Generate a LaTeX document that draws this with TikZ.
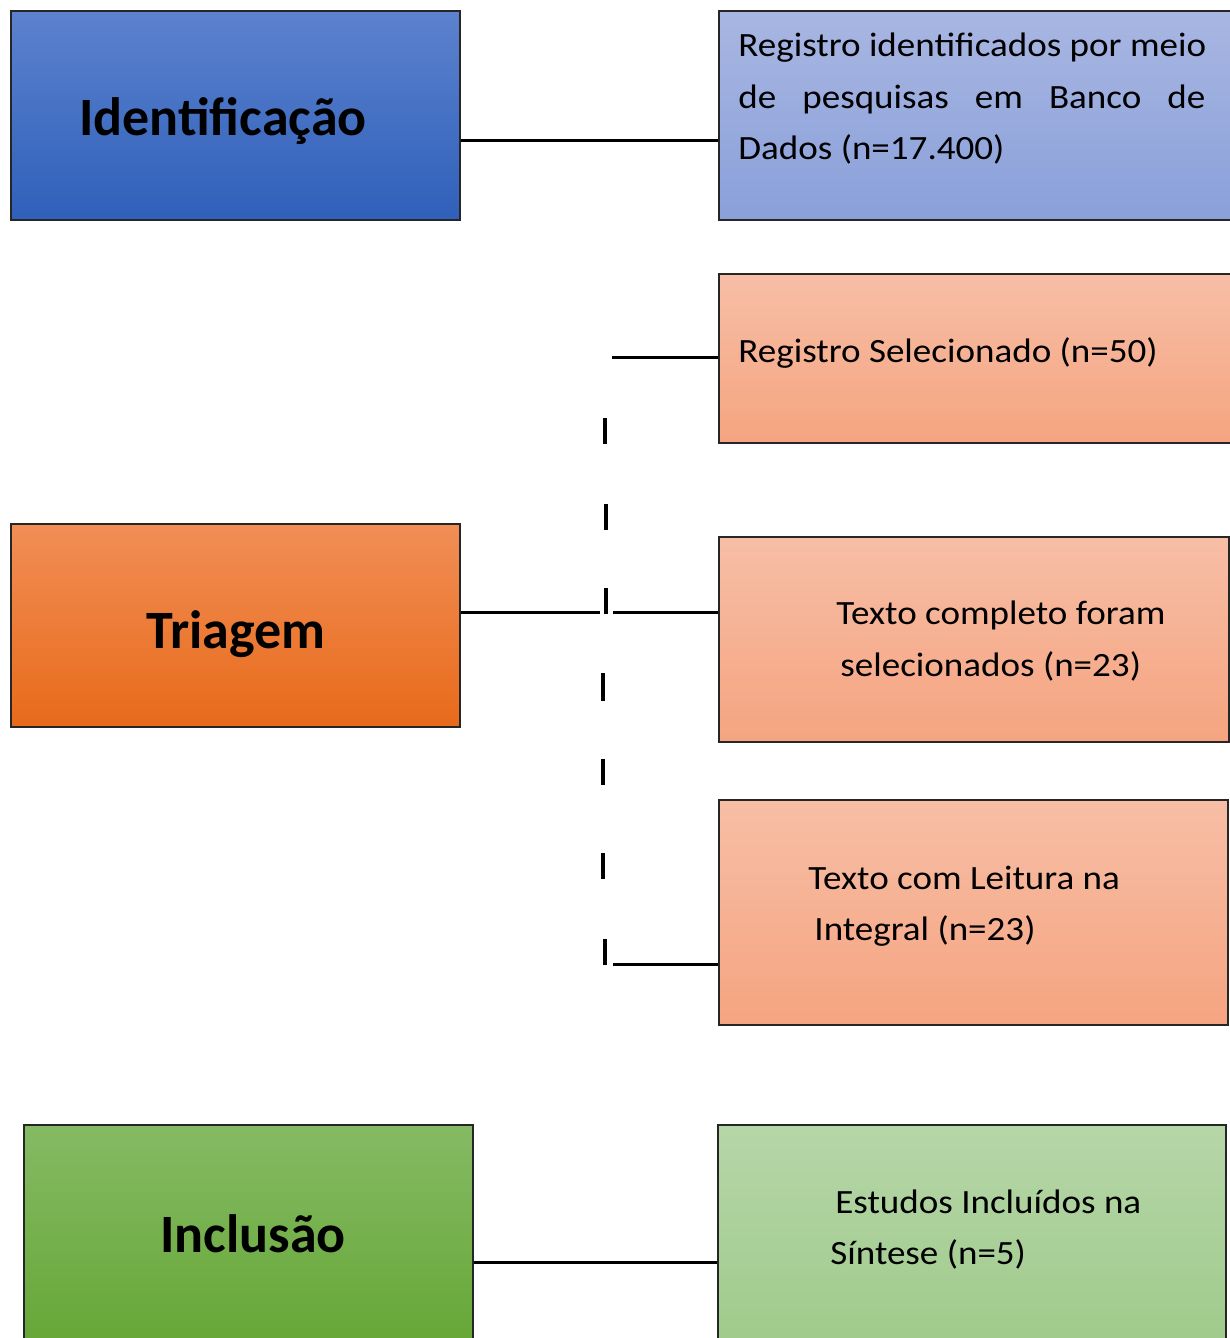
\documentclass[tikz,border=0pt]{standalone}
\usepackage{fontspec}
\setmainfont{Carlito}
\newfontfamily\bodyfont{Carlito}[FakeStretch=1.09]
\definecolor{idT}{RGB}{92,130,206}
\definecolor{idB}{RGB}{47,96,186}
\definecolor{rgT}{RGB}{168,182,226}
\definecolor{rgB}{RGB}{138,160,218}
\definecolor{slT}{RGB}{247,190,166}
\definecolor{slB}{RGB}{245,164,128}
\definecolor{trT}{RGB}{241,142,86}
\definecolor{trB}{RGB}{232,106,26}
\definecolor{inT}{RGB}{133,186,100}
\definecolor{inB}{RGB}{100,166,52}
\definecolor{esT}{RGB}{182,214,168}
\definecolor{esB}{RGB}{158,202,138}
\tikzset{
  bx/.style 2 args={draw=black!85, line width=1pt, rectangle, anchor=north west, inner sep=0pt,
    minimum width=#1*0.5pt, minimum height=#2*0.5pt},
  conn/.style={draw=black, line width=1.5pt},
  dashseg/.style={draw=black, line width=2pt},
  head/.style={font=\fontsize{27}{32}\selectfont\bfseries, inner sep=0pt},
  body/.style={font=\bodyfont\fontsize{17}{25.75}\selectfont, inner sep=0pt, anchor=base west, align=left},
}
\begin{document}
\begin{tikzpicture}[x=0.5pt, y=-0.5pt]
\clip (0,0) rectangle (1230,1338);
\fill[white] (0,0) rectangle (1230,1338);
% boxes
\node[bx={449}{209}, top color=idT, bottom color=idB] (ident) at (10,10) {};
\node[bx={530}{209}, top color=rgT, bottom color=rgB] (reg) at (718,10) {};
\node[bx={530}{169}, top color=slT, bottom color=slB] (sel) at (718,273) {};
\node[bx={449}{203}, top color=trT, bottom color=trB] (triag) at (10,523) {};
\node[bx={510}{205}, top color=slT, bottom color=slB] (comp) at (718,536) {};
\node[bx={509}{225}, top color=slT, bottom color=slB] (leit) at (718,799) {};
\node[bx={449}{232}, top color=inT, bottom color=inB] (incl) at (23,1124) {};
\node[bx={508}{232}, top color=esT, bottom color=esB] (estud) at (717,1124) {};
% headings
\node[head] (tid) at (223,121) {Identificação};
\node[head] (ttr) at (236,634) {Triagem};
\node[head] (tin) at (253,1234) {Inclusão};
% body texts
\node[body] (treg) at (738,160) {Registro identificados por meio\\
  \makebox[233.5pt][s]{de pesquisas em Banco de}\\
  Dados (n=17.400)};
\node[body] (tsel) at (738,362) {Registro Selecionado (n=50)};
\node[body] (tcomp1) at (836,624) {Texto completo foram};
\node[body] (tcomp2) at (840,676) {selecionados (n=23)};
\node[body] (tleit1) at (808,889) {Texto com Leitura na};
\node[body] (tleit2) at (814,940) {Integral (n=23)};
\node[body] (test1) at (835,1213) {Estudos Incluídos na};
\node[body] (test2) at (830,1264) {Síntese (n=5)};
% connector levels
\coordinate (l1) at (0,141);
\coordinate (l2) at (0,357);
\coordinate (l3) at (0,612);
\coordinate (l4) at (0,964);
\coordinate (l5) at (0,1262);
\coordinate (selL) at (612,357);
\coordinate (trM) at (600,612);
\coordinate (trR) at (613,612);
\coordinate (leL) at (613,964);
\draw[conn] (ident.east |- l1) -- (reg.west |- l1);
\draw[conn] (selL) -- (sel.west |- l2);
\draw[conn] (triag.east |- l3) -- (trM);
\draw[conn] (trR) -- (comp.west |- l3);
\draw[conn] (leL) -- (leit.west |- l4);
\draw[conn] (incl.east |- l5) -- (estud.west |- l5);
% vertical dashed line
\foreach \a/\b/\x in {418/444/605, 504/530/606, 588/614/606, 673/701/603, 759/785/603, 853/879/603, 939/965/605}
  \draw[dashseg] (\x,\a) -- (\x,\b);
\end{tikzpicture}
\end{document}
